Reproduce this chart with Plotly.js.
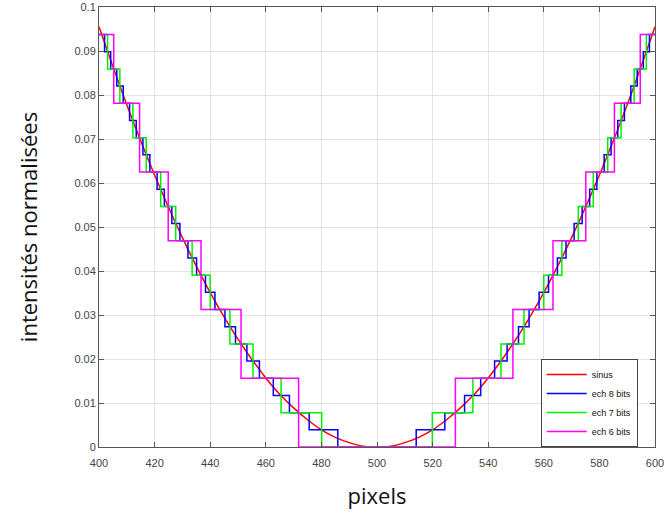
<!DOCTYPE html>
<html>
<head>
<meta charset="utf-8">
<script src="https://cdn.plot.ly/plotly-3.0.1.min.js"></script>
<style>html,body{margin:0;padding:0;background:#fff;}#chart{width:667px;height:521px;}</style>
</head>
<body>
<div id="chart"></div>
<script>
// Sinus (normalised intensity), every 5 pixels
const sinusX = [400,405,410,415,420,425,430,435,440,445,450,455,460,465,470,475,480,485,490,495,500,
                505,510,515,520,525,530,535,540,545,550,555,560,565,570,575,580,585,590,595,600];
const sinusY = [0.0955,0.0865,0.0778,0.0696,0.0618,0.0545,0.0476,0.0411,0.0351,0.0296,0.0245,0.0199,0.0157,0.0120,0.0089,0.0062,0.0039,0.0022,0.0010,0.0002,0,
                0.0002,0.0010,0.0022,0.0039,0.0062,0.0089,0.0120,0.0157,0.0199,0.0245,0.0296,0.0351,0.0411,0.0476,0.0545,0.0618,0.0696,0.0778,0.0865,0.0955];

// 8-bit quantised staircase: start of each step and its level
const ech8X = [400,402.0,404.2,406.4,408.7,411.0,413.4,415.8,418.3,420.9,423.5,426.2,429.1,432.0,435.1,438.3,441.7,445.3,449.1,453.2,457.7,462.7,468.5,475.6,485.9,
               514.1,524.4,531.5,537.3,542.3,546.8,550.9,554.7,558.3,561.7,564.9,568.0,570.9,573.8,576.5,579.1,581.7,584.2,586.6,589.0,591.3,593.6,595.8,598.0,600];
const ech8Y = [0.09375,0.08984375,0.0859375,0.08203125,0.078125,0.07421875,0.0703125,0.06640625,0.0625,0.05859375,0.0546875,0.05078125,0.046875,0.04296875,0.0390625,0.03515625,0.03125,0.02734375,0.0234375,0.01953125,0.015625,0.01171875,0.0078125,0.00390625,0,
               0.00390625,0.0078125,0.01171875,0.015625,0.01953125,0.0234375,0.02734375,0.03125,0.03515625,0.0390625,0.04296875,0.046875,0.05078125,0.0546875,0.05859375,0.0625,0.06640625,0.0703125,0.07421875,0.078125,0.08203125,0.0859375,0.08984375,0.09375,0.09375];

// 7-bit quantised staircase
const ech7X = [400,403.1,407.5,412.2,417.0,422.2,427.6,433.5,440.0,447.1,455.4,465.5,480.1,
               519.9,534.5,544.6,552.9,560.0,566.5,572.4,577.8,583.0,587.8,592.5,596.9,600];
const ech7Y = [0.09375,0.0859375,0.078125,0.0703125,0.0625,0.0546875,0.046875,0.0390625,0.03125,0.0234375,0.015625,0.0078125,0,
               0.0078125,0.015625,0.0234375,0.03125,0.0390625,0.046875,0.0546875,0.0625,0.0703125,0.078125,0.0859375,0.09375,0.09375];

// 6-bit quantised staircase
const ech6X = [400,405.3,414.6,424.9,436.7,451.1,471.8,528.2,548.9,563.3,575.1,585.4,594.7,600];
const ech6Y = [0.09375,0.078125,0.0625,0.046875,0.03125,0.015625,0,0.015625,0.03125,0.046875,0.0625,0.078125,0.09375,0.09375];

const xTicks = [400,420,440,460,480,500,520,540,560,580,600];
const yTicks = [0,0.01,0.02,0.03,0.04,0.05,0.06,0.07,0.08,0.09,0.1];
const yTickText = ['0','0.01','0.02','0.03','0.04','0.05','0.06','0.07','0.08','0.09','0.1'];
const names = ['sinus','ech 8 bits','ech 7 bits','ech 6 bits'];

const traces = [
  {x: sinusX, y: sinusY, name: names[0], mode: 'lines', line: {color: '#ff0000', width: 1.5, shape: 'spline'}},
  {x: ech8X, y: ech8Y, name: names[1], mode: 'lines', line: {color: '#0000ff', width: 1.5, shape: 'hv'}},
  {x: ech7X, y: ech7Y, name: names[2], mode: 'lines', line: {color: '#00f000', width: 1.5, shape: 'hv'}},
  {x: ech6X, y: ech6Y, name: names[3], mode: 'lines', line: {color: '#ff00ff', width: 1.5, shape: 'hv'}}
];

const axisCommon = {
  showgrid: true, gridcolor: '#e3e3e3', gridwidth: 1,
  showline: true, linecolor: '#555555', linewidth: 1, mirror: 'ticks',
  ticks: 'inside', ticklen: 5, tickcolor: '#555555',
  zeroline: false,
  tickfont: {family: 'Liberation Sans, Arial, sans-serif', size: 11, color: '#444444'}
};

const layout = {
  width: 667, height: 521,
  margin: {l: 99, r: 12, t: 7, b: 74},
  paper_bgcolor: '#ffffff', plot_bgcolor: '#ffffff',
  showlegend: true,
  legend: {
    x: 0.969, xanchor: 'right', y: 0.2, yanchor: 'top',
    bgcolor: '#ffffff', bordercolor: '#444444', borderwidth: 1,
    font: {family: 'Liberation Sans, Arial, sans-serif', size: 9, color: '#111111'},
    tracegroupgap: 0, itemwidth: 40
  },
  xaxis: Object.assign({}, axisCommon, {
    range: [400, 600], tickmode: 'array', tickvals: xTicks, ticktext: xTicks.map(String),
    ticklabelstandoff: 6,
    title: {text: 'pixels', font: {family: 'Open Sans, sans-serif', size: 22, color: '#111111'}, standoff: 20}
  }),
  yaxis: Object.assign({}, axisCommon, {
    range: [0, 0.1], tickmode: 'array', tickvals: yTicks, ticktext: yTickText,
    title: {text: 'intensités normalisées', font: {family: 'Open Sans, sans-serif', size: 22, color: '#111111'}, standoff: 30}
  })
};

Plotly.newPlot('chart', traces, layout, {displayModeBar: false, staticPlot: true});
</script>
</body>
</html>
